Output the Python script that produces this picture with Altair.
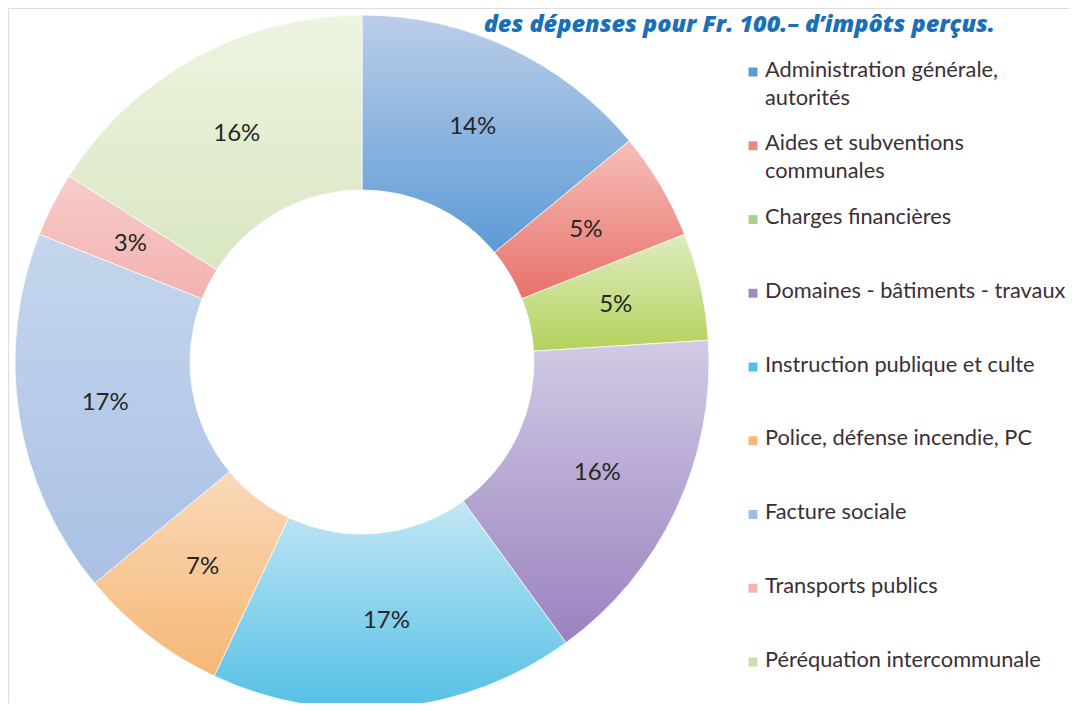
import math
import altair as alt
import pandas as pd

# ---- data ----
categories = [
    "Administration générale, autorités",
    "Aides et subventions communales",
    "Charges financières",
    "Domaines - bâtiments - travaux",
    "Instruction publique et culte",
    "Police, défense incendie, PC",
    "Facture sociale",
    "Transports publics",
    "Péréquation intercommunale",
]
legend_labels = [
    "Administration générale,\nautorités",
    "Aides et subventions\ncommunales",
    "Charges financières",
    "Domaines - bâtiments - travaux",
    "Instruction publique et culte",
    "Police, défense incendie, PC",
    "Facture sociale",
    "Transports publics",
    "Péréquation intercommunale",
]
values = [14, 5, 5, 16, 17, 7, 17, 3, 16]
pct_labels = ["14%", "5%", "5%", "16%", "17%", "7%", "17%", "3%", "16%"]

# ---- styles ----
top_colors = ["#bccee9", "#f6bfb9", "#deecc0", "#d2cae5", "#c3e6f4",
              "#fad9ba", "#c5d5ed", "#f7cbc9", "#edf4e0"]
bottom_colors = ["#5b9bd5", "#e9706a", "#b4d25c", "#9a82c0", "#55c0e6",
                 "#f6b774", "#aac1e4", "#f3b2b1", "#d9e7c2"]
legend_colors = ["#5b9bd5", "#f0877f", "#a9d18e", "#9e8bc6", "#4fc0e6",
                 "#f8b878", "#9fbde3", "#f5b4b4", "#c8e0b2"]

CX, CY = 354, 354
R_OUT, R_IN, R_LBL = 347, 172, 260

df = pd.DataFrame({
    "order": list(range(len(categories))),
    "category": categories,
    "legend_label": legend_labels,
    "value": values,
    "pct": pct_labels,
})

theta_scale = alt.Scale(domain=[0, 100], range=[0, 2 * math.pi])

base = alt.Chart(df).transform_window(
    cum="sum(value)", sort=[alt.SortField("order")], frame=[None, 0]
).transform_calculate(
    start="datum.cum - datum.value",
    mid="datum.cum - datum.value / 2",
)

layers = []
for i in range(len(categories)):
    grad = alt.LinearGradient(
        gradient="linear",
        stops=[alt.GradientStop(color=top_colors[i], offset=0),
               alt.GradientStop(color=bottom_colors[i], offset=1)],
        x1=0, x2=0, y1=0, y2=1,
    )
    layers.append(
        base.transform_filter(alt.datum.order == i)
        .mark_arc(fill=grad, stroke="#ffffff", strokeWidth=1, strokeOpacity=0.7,
                  radius=R_OUT, radius2=R_IN)
        .encode(
            theta=alt.Theta("start:Q", scale=theta_scale),
            theta2="cum:Q",
            x=alt.value(CX),
            y=alt.value(CY),
        )
    )

pct_text = base.mark_text(
    radius=R_LBL, font="Lato", fontSize=24, color="#262626"
).encode(
    theta=alt.Theta("mid:Q", scale=theta_scale),
    text="pct:N",
    x=alt.value(CX),
    y=alt.value(CY),
)

y_leg = alt.Y("category:N",
              scale=alt.Scale(type="point", domain=categories, range=[64, 654], padding=0),
              axis=None)

leg_sq = alt.Chart(df).mark_square(size=80, opacity=1).encode(
    x=alt.value(745),
    y=y_leg,
    color=alt.Color("category:N",
                    scale=alt.Scale(domain=categories, range=legend_colors),
                    legend=None),
)

leg_txt = alt.Chart(df).mark_text(
    align="left", baseline="top", dy=-12.5, lineHeight=28, lineBreak="\n",
    font="Lato", fontSize=21.8, color="#3b2f37",
).encode(
    x=alt.value(757),
    y=y_leg,
    text="legend_label:N",
)

title_df = pd.DataFrame({"t": ["des dépenses pour Fr. 100.– d’impôts perçus."]})
title = alt.Chart(title_df).mark_text(
    align="right", baseline="middle", font="Open Sans", fontSize=23.5,
    fontWeight=800, fontStyle="italic", color="#1a70b8",
).encode(x=alt.value(987), y=alt.value(17), text="t:N")

chart = alt.layer(*layers, pct_text, leg_sq, leg_txt, title).properties(
    width=1061, height=695, padding=0, autosize="none"
).configure_view(stroke=None).configure(background="#ffffff")

chart.save("out.html", embed_options={"renderer": "svg", "actions": False})
